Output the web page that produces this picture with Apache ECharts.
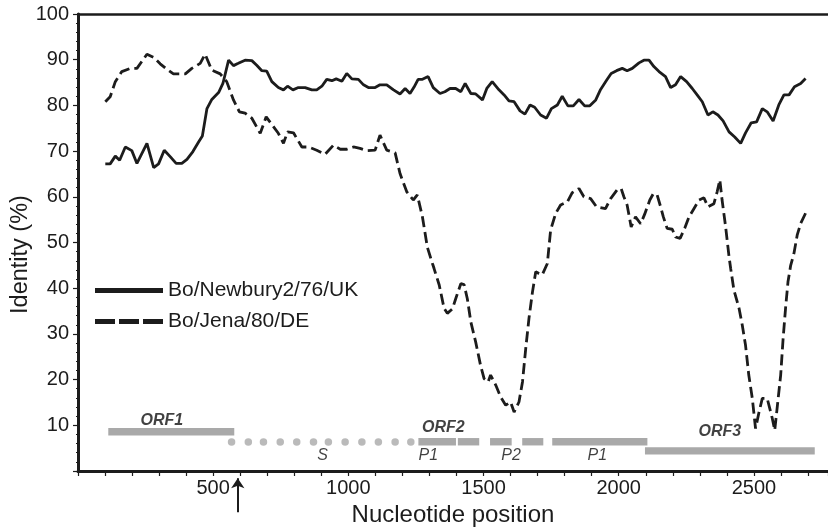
<!DOCTYPE html>
<html>
<head>
<meta charset="utf-8">
<script src="https://cdn.jsdelivr.net/npm/echarts@6/dist/echarts.min.js"></script>
<style>html,body{margin:0;padding:0;background:#fff;}#c{width:828px;height:530px;}</style>
</head>
<body>
<div id="c"></div>
<script>
// ---- data ----
const newburyX = [101,119,138,154,175,199,218,255,280,298,319,341,363,384,403,425,446,460,477,495,520,536,557,575,593,618,643,661,680,698,717,741,760,775,795,815,840,865,883,902,920,939,955,976,994,1013,1037,1056,1074,1099,1117,1142,1167,1191,1210,1228,1243,1258,1274,1295,1314,1339,1357,1376,1397,1416,1432,1453,1471,1496,1512,1532,1557,1576,1594,1613,1635,1653,1672,1689,1711,1733,1751,1773,1791,1812,1832,1853,1874,1893,1915,1933,1955,1972,1992,2013,2031,2050,2075,2093,2112,2130,2149,2173,2192,2210,2229,2251,2272,2290,2309,2330,2348,2367,2386,2408,2429,2451,2469,2490,2510,2531,2549,2571,2592,2611,2630,2650,2673,2691];
const newburyY = [67.2,67.2,68.9,68.0,70.9,70.1,67.3,71.7,66.4,67.2,70.2,68.8,67.3,67.3,68.2,69.9,72.0,73.3,79.3,81.3,82.8,84.8,89.9,88.7,89.2,89.9,89.8,88.8,87.6,87.5,85.2,83.9,83.4,84.2,83.4,83.9,83.9,83.4,83.4,84.2,85.7,85.4,85.8,85.3,87.0,85.8,85.7,84.5,83.9,83.9,84.5,84.5,83.4,82.5,83.7,82.6,84.0,85.7,85.7,86.3,83.9,82.6,83.0,83.7,83.7,83.0,84.8,82.6,82.5,81.2,83.7,85.2,83.4,82.3,81.0,80.8,78.8,78.1,80.1,79.6,77.9,77.2,79.3,80.1,82.0,79.9,79.9,81.3,79.9,79.9,81.2,83.5,85.5,87.0,87.6,88.1,87.6,88.1,89.3,89.9,89.9,88.5,87.4,86.3,83.9,84.5,86.3,85.2,83.7,82.3,80.8,77.9,78.6,77.9,76.6,74.2,73.1,71.7,74.0,76.2,76.4,79.3,78.6,76.6,80.1,82.3,82.3,84.1,84.8,85.9];
const jenaX = [101,119,138,162,193,218,255,280,304,329,353,397,421,452,470,495,526,550,575,597,618,643,674,696,741,760,775,797,828,852,883,914,945,970,994,1019,1043,1068,1099,1117,1142,1173,1191,1216,1240,1255,1274,1292,1311,1317,1336,1354,1366,1385,1397,1416,1428,1440,1453,1471,1489,1502,1517,1526,1545,1563,1582,1600,1613,1631,1644,1656,1668,1681,1693,1705,1717,1736,1748,1767,1785,1810,1828,1853,1871,1896,1918,1951,1970,1994,2009,2019,2031,2046,2062,2081,2096,2115,2128,2142,2155,2165,2179,2198,2210,2227,2244,2260,2278,2297,2315,2330,2352,2364,2374,2382,2395,2408,2414,2426,2445,2457,2469,2481,2494,2506,2519,2531,2549,2568,2577,2587,2599,2608,2617,2626,2636,2648,2660,2673,2691];
const jenaY = [80.8,81.9,85.2,87.4,88.1,88.1,91.2,90.5,89.1,87.9,86.9,86.9,88.1,89.2,91.2,87.7,86.9,85.2,81.2,78.6,78.3,77.2,73.9,77.5,73.9,71.7,74.2,74.0,70.9,70.9,70.2,69.3,71.3,70.4,70.4,70.9,70.6,70.1,70.2,73.5,70.2,69.6,65.1,61.1,59.3,60.4,55.6,49.0,45.4,44.3,40.7,35.6,34.5,35.5,37.7,41.0,40.8,37.7,32.6,28.2,23.1,20.2,19.5,21.0,18.8,16.2,14.4,15.1,12.9,15.1,19.5,26.8,33.4,39.2,43.6,43.2,42.9,45.4,52.7,56.4,58.2,58.9,60.9,61.8,60.0,59.6,57.8,57.4,59.6,61.5,61.8,60.0,58.2,53.4,55.6,54.1,56.2,59.3,60.7,60.4,57.8,55.6,53.1,52.9,51.2,50.9,53.1,55.6,57.4,59.3,59.8,57.8,58.5,61.1,63.7,59.4,53.6,46.9,44.3,39.6,35.6,31.9,27.5,21.0,15.9,9.3,12.9,15.9,15.9,11.5,8.9,14.4,21.0,29.0,35.6,41.4,45.0,47.6,51.6,54.2,56.4];
const seriesNames = ['Bo/Newbury2/76/UK', 'Bo/Jena/80/DE'];
// genome bars: [start, end, level]
const orfBars = [[112,578,8.6],[1259,1398,6.4],[1405,1484,6.4],[1524,1604,6.4],[1643,1721,6.4],[1754,2106,6.4],[2097,2725,4.4]];
const sDots = [568,630,686,748,809,871,926,988,1050,1111,1173,1231];
const sDotLevel = 6.35;
const orfLabels = [['ORF1',310,11.0],['ORF2',1351,9.6],['ORF3',2374,8.7]];
const regionLabels = [['S',905,3.4],['P1',1296,3.4],['P2',1602,3.4],['P1',1921,3.4]];
const arrowPos = 591;
const arrowFrom = -9.0, arrowTo = -1.6;
const xMin = 0, xMax = 2774, xInterval = 100;
const yMin = 0, yMax = 100, yInterval = 10;

const FONT = 'Liberation Sans, Arial, sans-serif';
const INK = '#1c1c1c';
const GREY = '#a9a9a9';

const chart = echarts.init(document.getElementById('c'), null, {renderer: 'canvas'});
const zip = (xs, ys) => xs.map((x, i) => [x, ys[i]]);

chart.setOption({
  animation: false,
  backgroundColor: '#fff',
  grid: {left: 78, right: 0, top: 14, bottom: 59, containLabel: false, outerBoundsMode: 'none'},
  legend: {
    orient: 'vertical', left: 90, top: 275, itemGap: 10,
    itemWidth: 68, itemHeight: 5,
    textStyle: {fontFamily: FONT, fontSize: 21, color: INK},
    data: [
      {name: seriesNames[0], icon: 'rect', itemStyle: {color: INK}},
      {name: seriesNames[1], icon: 'path://M0,0H20V5H0Z M24,0H44V5H24Z M48,0H68V5H48Z', itemStyle: {color: INK}}
    ]
  },
  xAxis: [{
    type: 'value', min: xMin, max: xMax, interval: xInterval,
    name: 'Nucleotide position', nameLocation: 'middle', nameGap: 32, nameMoveOverlap: false,
    nameTextStyle: {fontFamily: FONT, fontSize: 24, color: INK},
    axisLine: {show: true, lineStyle: {color: INK, width: 3}},
    axisTick: {show: true, length: 5, lineStyle: {color: INK, width: 1.2}},
    minorTick: {show: true, splitNumber: 5, length: 2, lineStyle: {color: INK, width: 1}},
    axisLabel: {fontFamily: FONT, fontSize: 20, color: INK, margin: 7,
      formatter: v => (v > 0 && v % 500 === 0) ? String(v) : ''},
    splitLine: {show: false}
  }, {
    type: 'value', position: 'top', min: xMin, max: xMax,
    axisLine: {show: true, lineStyle: {color: INK, width: 2.5}},
    axisTick: {show: false}, axisLabel: {show: false}, splitLine: {show: false}
  }],
  yAxis: {
    type: 'value', min: yMin, max: yMax, interval: yInterval,
    name: 'Identity (%)', nameLocation: 'middle', nameGap: 45, nameMoveOverlap: false,
    nameTextStyle: {fontFamily: FONT, fontSize: 23.5, color: INK, padding: [0, 24, 0, 0]},
    axisLine: {show: true, lineStyle: {color: INK, width: 3}},
    axisTick: {show: true, length: 5, lineStyle: {color: INK, width: 1.2}},
    minorTick: {show: true, splitNumber: 5, length: 2, lineStyle: {color: INK, width: 1}},
    axisLabel: {fontFamily: FONT, fontSize: 20, color: INK, margin: 9,
      formatter: v => v === 0 ? '' : String(v)},
    splitLine: {show: false}
  },
  series: [
    {
      name: seriesNames[0], type: 'line', data: zip(newburyX, newburyY),
      symbol: 'none', lineStyle: {color: INK, width: 2.8, type: 'solid'},
      itemStyle: {color: INK}, z: 5
    },
    {
      name: seriesNames[1], type: 'line', data: zip(jenaX, jenaY),
      symbol: 'none', lineStyle: {color: INK, width: 2.8, type: [11, 5]},
      itemStyle: {color: INK}, z: 5
    },
    {
      type: 'custom', data: orfBars, silent: true, z: 3,
      renderItem: (params, api) => {
        const p0 = api.coord([api.value(0), api.value(2)]);
        const p1 = api.coord([api.value(1), api.value(2)]);
        return {type: 'rect', shape: {x: p0[0], y: p0[1] - 3.7, width: p1[0] - p0[0], height: 7.4},
          style: {fill: GREY}};
      }
    },
    {
      type: 'scatter', data: sDots.map(x => [x, sDotLevel]), symbol: 'circle', symbolSize: 7.5,
      itemStyle: {color: GREY}, silent: true, z: 3
    },
    {
      type: 'scatter', data: orfLabels.map(d => ({name: d[0], value: [d[1], d[2]]})),
      symbolSize: 0, silent: true, z: 6,
      label: {show: true, position: 'inside', formatter: p => p.name,
        fontFamily: FONT, fontSize: 16, fontWeight: 'bold', fontStyle: 'italic', color: '#111'}
    },
    {
      type: 'scatter', data: regionLabels.map(d => ({name: d[0], value: [d[1], d[2]]})),
      symbolSize: 0, silent: true, z: 6,
      label: {show: true, position: 'inside', formatter: p => p.name,
        fontFamily: FONT, fontSize: 16, fontStyle: 'italic', color: '#111'}
    },
    {
      type: 'lines', coordinateSystem: 'cartesian2d', clip: false, silent: true, z: 6,
      data: [{coords: [[arrowPos, arrowFrom], [arrowPos, arrowTo]]}],
      symbol: ['none', 'arrow'], symbolSize: [7, 10],
      lineStyle: {color: INK, width: 2, opacity: 1}
    }
  ]
});
</script>
</body>
</html>
